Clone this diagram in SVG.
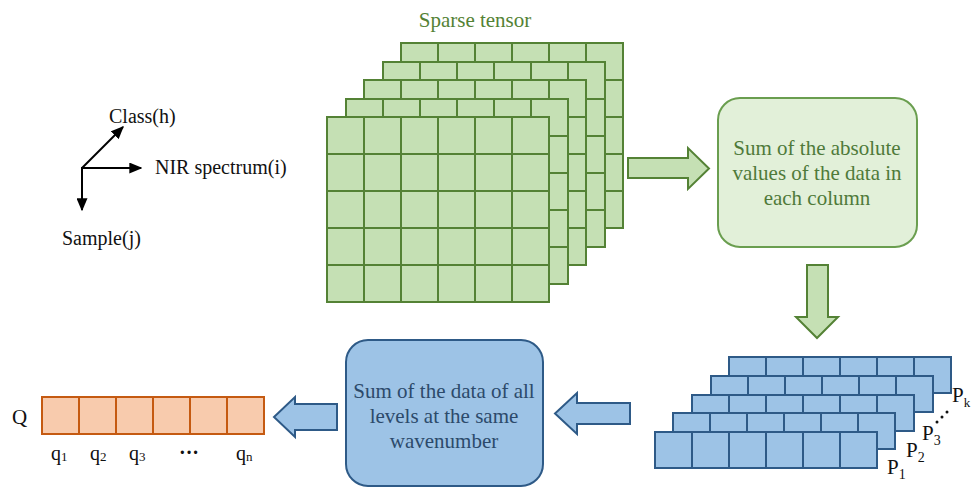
<svg xmlns="http://www.w3.org/2000/svg" width="971" height="487" viewBox="0 0 971 487" font-family="'Liberation Serif', 'Times New Roman', 'DejaVu Serif', serif">
  <defs>
    <style>
      .lbl { font-size: 20px; fill: #111; }
      .g-cell { fill: #c5e0b4; stroke: #548235; stroke-width: 2; }
      .b-cell { fill: #9dc3e6; stroke: #2e5a87; stroke-width: 2; }
      .o-cell { fill: #f8cbad; stroke: #c55a11; stroke-width: 2; }
      .g-txt { font-size: 21px; fill: #4f7a3a; text-anchor: middle; }
      .b-txt { font-size: 21px; fill: #2c4a6b; text-anchor: middle; }
      .pl { font-size: 21px; fill: #111; }
      .ql { font-size: 20px; fill: #111; }
      .axis { stroke: #000; stroke-width: 2; fill: none; }
    </style>
    <marker id="ah" viewBox="0 0 10 10" refX="9" refY="5" markerWidth="13" markerHeight="11" markerUnits="userSpaceOnUse" orient="auto" preserveAspectRatio="none">
      <path d="M0,0 L10,5 L0,10 z" fill="#000"/>
    </marker>
    <!-- one 6x5 layer of the green tensor -->
    <g id="gLayer">
      <rect class="g-cell" x="0" y="0" width="222" height="185"/>
      <path d="M37,0V185M74,0V185M111,0V185M148,0V185M185,0V185M0,37H222M0,74H222M0,111H222M0,148H222" stroke="#548235" stroke-width="2"/>
    </g>
    <!-- one 6-cell row of the blue stack -->
    <g id="bLayer">
      <rect class="b-cell" x="0" y="0" width="222" height="36"/>
      <path d="M37,0V36M74,0V36M111,0V36M148,0V36M185,0V36" stroke="#2e5a87" stroke-width="2"/>
    </g>
  </defs>
  <rect width="971" height="487" fill="#fff"/>

  <!-- axes legend -->
  <g id="axes">
    <line class="axis" x1="82" y1="168" x2="123" y2="127" marker-end="url(#ah)"/>
    <line class="axis" x1="82" y1="168" x2="141" y2="168" marker-end="url(#ah)"/>
    <line class="axis" x1="82" y1="167" x2="82" y2="210" marker-end="url(#ah)"/>
    <text class="lbl" x="109" y="123">Class(h)</text>
    <text class="lbl" x="155" y="174">NIR spectrum(i)</text>
    <text class="lbl" x="62" y="245">Sample(j)</text>
  </g>

  <!-- sparse tensor: five stacked layers -->
  <g id="sparse-tensor">
    <text x="475" y="27" font-size="21" fill="#548235" text-anchor="middle">Sparse tensor</text>
    <use href="#gLayer" x="401" y="43"/>
    <use href="#gLayer" x="383" y="62"/>
    <use href="#gLayer" x="364" y="80"/>
    <use href="#gLayer" x="346" y="99"/>
    <use href="#gLayer" x="327" y="117"/>
  </g>

  <!-- step 1 -->
  <g id="abs-sum">
    <rect x="718" y="98" width="199" height="149" rx="22" fill="#e2f0d9" stroke="#6a9e4f" stroke-width="2"/>
    <text class="g-txt" x="817" y="155">Sum of the absolute</text>
    <text class="g-txt" x="817" y="180">values of the data in</text>
    <text class="g-txt" x="817" y="205">each column</text>
  </g>

  <!-- per-level stack P1..Pk -->
  <g id="level-stack">
    <use href="#bLayer" x="729" y="357"/>
    <use href="#bLayer" x="711" y="376"/>
    <use href="#bLayer" x="692" y="395"/>
    <use href="#bLayer" x="673" y="413"/>
    <use href="#bLayer" x="655" y="432"/>
    <text class="pl" x="887" y="474">P<tspan font-size="14" dy="5">1</tspan></text>
    <text class="pl" x="906" y="457">P<tspan font-size="14" dy="5">2</tspan></text>
    <text class="pl" x="922" y="440">P<tspan font-size="14" dy="5">3</tspan></text>
    <text class="pl" x="952" y="402">P<tspan font-size="13" dy="5">k</tspan></text>
    <circle cx="937" cy="422" r="1.5" fill="#111"/>
    <circle cx="942" cy="417" r="1.5" fill="#111"/>
    <circle cx="947" cy="412" r="1.5" fill="#111"/>
  </g>

  <!-- step 2 -->
  <g id="level-sum">
    <rect x="346" y="340" width="197" height="146" rx="22" fill="#9dc3e6" stroke="#2e5a87" stroke-width="2"/>
    <text class="b-txt" x="444" y="398">Sum of the data of all</text>
    <text class="b-txt" x="444" y="423">levels at the same</text>
    <text class="b-txt" x="444" y="448">wavenumber</text>
  </g>

  <!-- result vector Q -->
  <g id="q-vector">
    <text x="12" y="424" font-size="21" fill="#111">Q</text>
    <rect class="o-cell" x="42" y="397" width="222" height="37"/>
    <path d="M79,397V434M116,397V434M153,397V434M190,397V434M227,397V434" stroke="#c55a11" stroke-width="2"/>
    <text class="ql" x="51" y="460">q<tspan font-size="13" dy="1">1</tspan></text>
    <text class="ql" x="90" y="460">q<tspan font-size="13" dy="1">2</tspan></text>
    <text class="ql" x="129" y="460">q<tspan font-size="13" dy="1">3</tspan></text>
    <text class="ql" x="179" y="459" font-weight="bold">···</text>
    <text class="ql" x="236" y="460">q<tspan font-size="13" dy="1">n</tspan></text>
  </g>

  <!-- block arrows between stages -->
  <g id="connectors">
    <path d="M628,158H688V148L709,168.5L688,189V178H628Z" fill="#c5e0b4" stroke="#548235" stroke-width="2"/>
    <path d="M807,265H828V317H838L817,338L796,317H807Z" fill="#c5e0b4" stroke="#548235" stroke-width="2"/>
    <path d="M630,403H577V393L555,413.5L577,434V424H630Z" fill="#9dc3e6" stroke="#2e5a87" stroke-width="2"/>
    <path d="M337,404H295V397L274,417L295,437V430H337Z" fill="#9dc3e6" stroke="#2e5a87" stroke-width="2"/>
  </g>
</svg>
